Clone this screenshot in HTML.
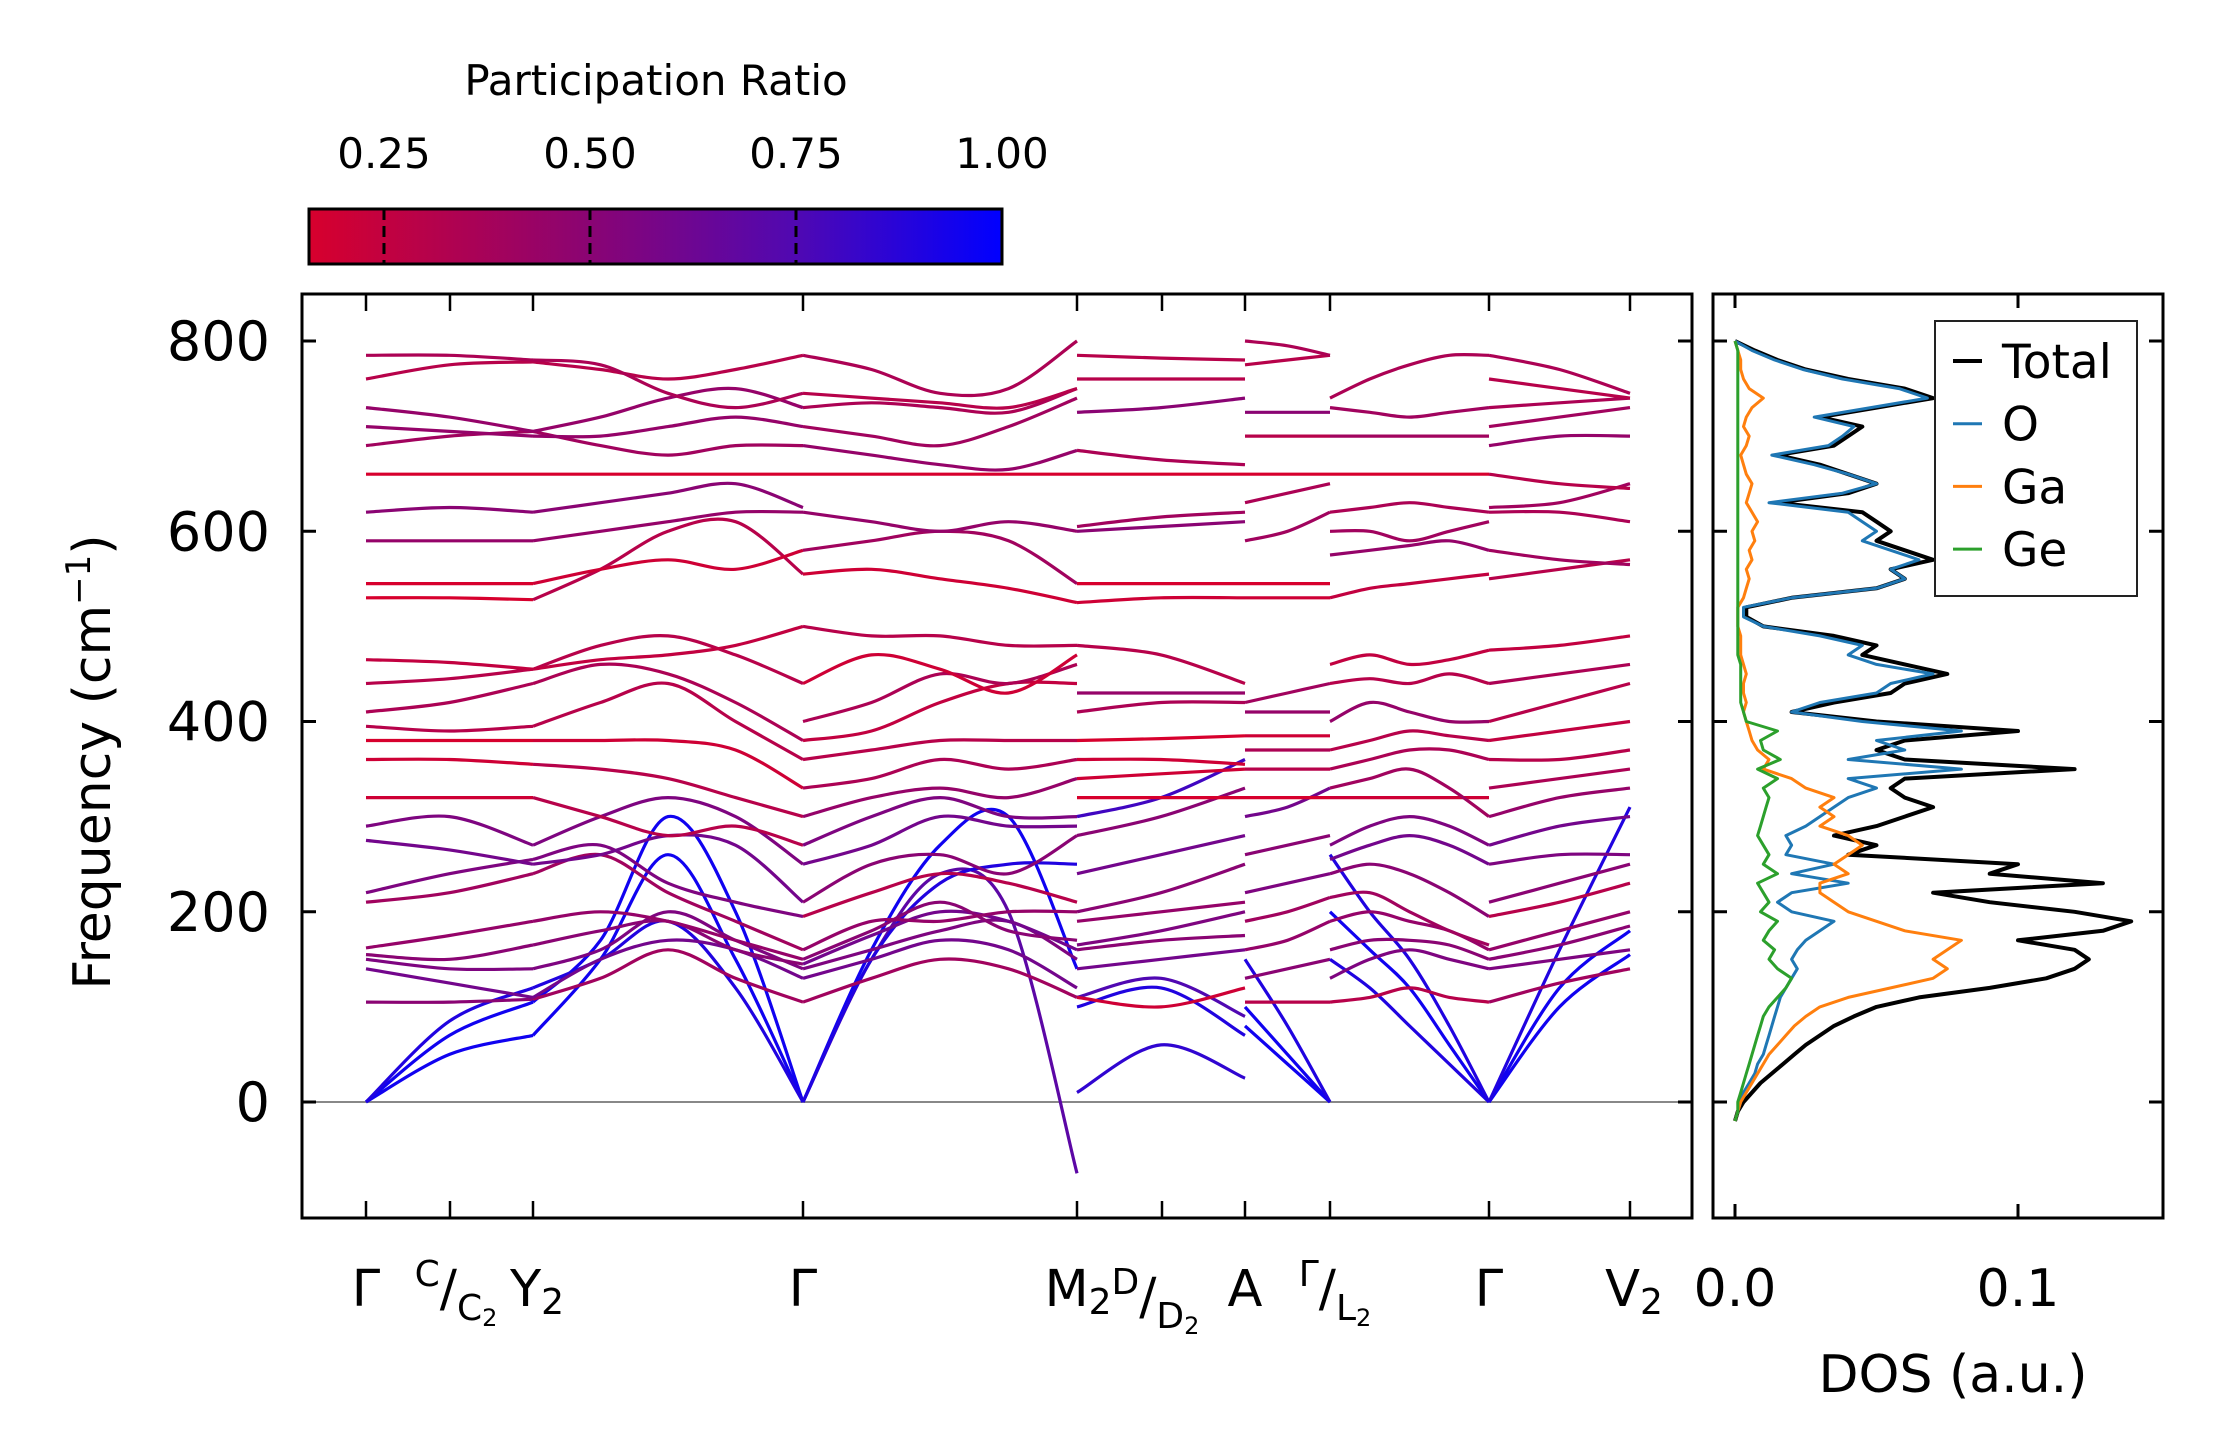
<!DOCTYPE html>
<html><head><meta charset="utf-8"><style>
html,body{margin:0;padding:0;background:#fff}
svg{display:block;font-family:"DejaVu Sans","Liberation Sans",sans-serif}
</style></head><body>
<svg id="fig" width="2222" height="1455" viewBox="0 0 2222 1455" xmlns="http://www.w3.org/2000/svg">
<defs>
<linearGradient id="cbgrad" x1="0" x2="1" y1="0" y2="0">
<stop offset="0" stop-color="rgb(215,0,45)"/>
<stop offset="0.404" stop-color="rgb(138,4,115)"/>
<stop offset="0.703" stop-color="rgb(80,8,178)"/>
<stop offset="1" stop-color="rgb(0,0,255)"/>
</linearGradient>
<clipPath id="mainclip"><rect x="302" y="294" width="1390" height="924"/></clipPath>
<clipPath id="dosclip"><rect x="1713" y="294" width="450" height="924"/></clipPath>
</defs>
<g id="colorbar">
<text x="656" y="95" font-size="42" text-anchor="middle">Participation Ratio</text>
<rect x="309" y="209" width="693" height="55" fill="url(#cbgrad)" stroke="#000" stroke-width="3"/>
</g>
<g id="main"></g>
<g id="dos"></g>
</svg>
<script>
const NS="http://www.w3.org/2000/svg";
// ---- data ----
const cbTicks=[0.25,0.5,0.75,1.0];
const cbTickLabels=["0.25","0.50","0.75","1.00"];
const yTicks=[0,200,400,600,800];
const yTickLabels=["0","200","400","600","800"];
const kTicks=[0,0.84,1.67,4.37,7.11,7.96,8.79,9.64,11.23,12.64];
const segStart=[0,2,3,4,6,7,8];
const segEnd=[2,3,4,6,7,8,9];
const seg0Bands=[[0,50,70],[0,70,105],[0,85,120],[105,105,108],[140,125,110],[150,140,140],[155,150,165],[162,175,190],[210,220,240],[220,240,255],[275,265,250],[290,300,270],[320,320,320],[360,360,355],[380,380,380],[395,390,395],[410,420,440],[440,445,455],[465,462,455],[530,530,528],[545,545,545],[590,590,590],[620,625,620],[660,660,660],[690,700,705],[710,705,700],[730,720,705],[760,775,778],[785,785,780]];
const seg0PR=[.95,.95,.9,.5,.6,.55,.5,.45,.4,.55,.6,.55,.2,.2,.15,.3,.35,.3,.25,.15,.15,.45,.5,.15,.4,.45,.45,.3,.35];
const seg1Bands=[[70,150,260,150,0],[105,170,300,200,0],[120,150,190,120,0],[108,130,160,130,105],[110,150,170,160,130],[140,160,200,170,140],[165,180,190,160,145],[190,200,190,170,150],[240,260,220,190,160],[255,270,230,210,195],[250,260,280,270,210],[270,300,320,300,250],[320,300,280,290,270],[355,350,340,320,300],[380,380,380,370,330],[395,420,440,400,360],[440,460,450,420,380],[455,480,490,470,440],[455,465,470,480,500],[528,560,600,610,555],[545,560,570,560,580],[590,600,610,620,620],[620,630,640,650,625],[660,660,660,660,660],[705,690,680,690,690],[700,700,710,720,710],[705,720,740,750,730],[778,770,760,770,785],[780,775,745,730,745]];
const seg1PR=[.95,.95,.9,.4,.6,.55,.5,.45,.4,.55,.6,.55,.3,.3,.2,.3,.35,.3,.25,.3,.2,.45,.5,.15,.4,.45,.45,.3,.35];
const seg2Bands=[[0,150,240,200,-75],[0,160,270,300,140],[0,150,230,250,250],[105,130,150,140,110],[130,150,170,160,120],[140,160,180,190,150],[145,175,200,190,160],[150,180,210,180,170],[160,190,190,200,200],[195,220,240,230,210],[210,250,260,240,280],[250,270,300,290,290],[270,300,320,300,300],[300,320,330,320,340],[330,340,360,350,360],[360,370,380,380,380],[380,390,420,440,440],[400,420,450,440,460],[440,470,455,430,470],[500,490,490,480,480],[555,560,550,540,525],[580,590,600,590,545],[620,610,600,610,600],[660,660,660,660,660],[690,680,670,665,685],[710,700,690,710,740],[730,735,730,725,750],[745,740,735,730,750],[785,770,745,750,800]];
const seg2PR=[.7,.95,.9,.4,.6,.55,.6,.5,.45,.3,.5,.6,.55,.45,.35,.3,.25,.35,.2,.3,.2,.4,.45,.15,.45,.4,.35,.3,.35];
const seg3Bands=[[10,60,25],[100,120,70],[110,130,90],[110,100,120],[140,150,160],[160,170,175],[165,180,200],[190,200,210],[200,220,250],[240,260,280],[280,300,330],[300,320,360],[320,320,320],[340,345,350],[360,360,355],[380,382,385],[410,420,420],[430,430,430],[480,470,440],[525,530,530],[545,545,545],[600,605,610],[605,615,620],[660,660,660],[685,675,670],[725,730,740],[760,760,760],[785,782,780]];
const seg3PR=[.85,.9,.75,.2,.6,.5,.55,.45,.5,.6,.5,.8,.15,.2,.2,.15,.35,.45,.3,.2,.15,.5,.4,.12,.35,.5,.3,.3];
const seg4Bands=[[80,40,0],[100,50,0],[150,80,0],[105,105,105],[130,140,150],[160,170,190],[190,200,215],[220,230,240],[260,270,280],[300,310,330],[320,320,320],[350,350,350],[370,370,370],[385,385,385],[410,410,410],[420,430,440],[530,530,530],[545,545,545],[590,600,620],[630,640,650],[660,660,660],[700,700,700],[725,725,725],[775,780,785],[800,795,785]];
const seg4PR=[.95,.95,.9,.3,.5,.45,.4,.55,.5,.6,.15,.3,.35,.2,.45,.4,.2,.15,.4,.35,.12,.3,.5,.3,.35];
const seg5Bands=[[150,120,80,40,0],[200,160,120,60,0],[260,200,150,80,0],[105,110,120,110,105],[130,150,160,150,140],[160,170,170,165,150],[190,200,190,180,160],[215,220,200,180,165],[240,250,240,220,195],[255,270,280,270,250],[270,290,300,290,270],[320,320,320,320,320],[330,340,350,330,300],[350,360,370,370,360],[370,380,390,385,380],[400,420,410,400,400],[440,445,440,450,440],[460,470,460,465,475],[530,540,545,550,555],[575,580,585,590,580],[600,600,590,600,610],[620,625,630,625,620],[660,660,660,660,660],[700,700,700,700,700],[730,725,720,725,730],[740,760,775,785,785]];
const seg5PR=[.9,.95,.9,.3,.55,.5,.45,.4,.5,.6,.55,.2,.4,.35,.3,.45,.3,.25,.25,.45,.4,.35,.15,.4,.4,.35];
const seg6Bands=[[0,100,155],[0,120,180],[0,160,310],[105,125,140],[140,150,160],[150,165,185],[160,180,200],[195,210,230],[210,230,250],[250,260,260],[270,290,300],[300,320,330],[330,340,350],[360,360,370],[380,390,400],[400,420,440],[440,450,460],[475,480,490],[550,560,570],[580,570,565],[620,620,610],[625,630,650],[660,650,645],[690,700,700],[710,720,730],[730,735,740],[760,750,740],[785,770,745]];
const seg6PR=[.95,.95,.9,.4,.55,.5,.45,.3,.5,.55,.6,.45,.35,.3,.25,.3,.35,.25,.3,.4,.35,.4,.3,.45,.4,.35,.3,.35];
const allBands=[seg0Bands,seg1Bands,seg2Bands,seg3Bands,seg4Bands,seg5Bands,seg6Bands];
const allPR=[seg0PR,seg1PR,seg2PR,seg3PR,seg4PR,seg5PR,seg6PR];
// DOS
const dosFreq=[-20,-10,0,10,20,30,40,50,60,70,80,90,100,110,120,130,140,150,160,170,180,190,200,210,220,230,240,250,260,270,280,290,300,310,320,330,340,350,360,370,380,390,400,410,420,430,440,450,460,470,480,490,500,510,520,530,540,550,560,570,580,590,600,610,620,630,640,650,660,670,680,690,700,710,720,730,740,750,760,770,780,790,800];
const dosTotal=[0,.001,.003,.006,.009,.013,.017,.021,.025,.03,.035,.042,.05,.065,.09,.11,.12,.125,.12,.1,.13,.14,.12,.09,.07,.13,.09,.1,.04,.05,.035,.05,.06,.07,.06,.055,.06,.12,.06,.05,.06,.1,.05,.02,.035,.055,.06,.075,.06,.045,.05,.035,.01,.004,.004,.02,.05,.06,.055,.07,.06,.05,.055,.05,.045,.015,.04,.05,.04,.03,.015,.035,.04,.045,.03,.05,.07,.06,.04,.025,.015,.007,0];
const dosO=[0,.001,.002,.003,.005,.007,.008,.01,.011,.012,.013,.014,.015,.016,.018,.02,.022,.02,.022,.025,.03,.035,.02,.015,.02,.04,.02,.035,.018,.02,.018,.025,.03,.035,.04,.05,.04,.08,.04,.06,.05,.08,.045,.02,.03,.05,.055,.07,.05,.04,.045,.03,.01,.003,.003,.02,.05,.06,.055,.065,.055,.045,.05,.045,.04,.012,.038,.05,.04,.028,.013,.033,.038,.042,.028,.048,.068,.058,.038,.024,.014,.006,0];
const dosGa=[0,.001,.002,.004,.006,.008,.01,.012,.015,.018,.021,.025,.03,.04,.055,.07,.075,.07,.075,.08,.06,.05,.04,.035,.03,.03,.04,.035,.04,.045,.04,.03,.035,.03,.035,.025,.02,.01,.012,.008,.006,.005,.004,.003,.004,.003,.003,.004,.003,.002,.002,.002,.001,.001,.001,.003,.004,.005,.004,.006,.005,.007,.006,.008,.006,.004,.005,.006,.004,.003,.002,.004,.005,.003,.004,.006,.01,.005,.003,.002,.002,.001,0];
const dosGe=[0,.001,.001,.002,.003,.004,.005,.006,.007,.008,.009,.01,.012,.015,.018,.02,.015,.012,.014,.01,.012,.015,.009,.012,.01,.008,.015,.01,.012,.01,.008,.009,.01,.011,.012,.01,.015,.008,.016,.01,.009,.015,.004,.003,.002,.002,.002,.002,.002,.001,.001,.001,.001,.001,.001,.001,.001,.001,.001,.001,.001,.001,.001,.001,.001,.001,.001,.001,.001,.001,.001,.001,.001,.001,.001,.001,.001,.001,.001,.001,.001,.001,0];
const dosNames=["Total","O","Ga","Ge"];
const dosXTicks=[0,0.1];
const dosXTickLabels=["0.0","0.1"];

// ---- axes ----
const yS=f=>1102-f*0.95125;
const xK=k=>366+k*100;
const xD=d=>1735+d*2830;
const xCB=v=>309+(v-0.159)/(1-0.159)*693;
function prColor(p){
  const st=[[0.159,215,0,45],[0.5,138,4,115],[0.75,80,8,178],[1,0,0,255]];
  p=Math.max(0.159,Math.min(1,p));
  for(let i=0;i<3;i++){const a=st[i],b=st[i+1];if(p<=b[0]){const t=(p-a[0])/(b[0]-a[0]);
    return `rgb(${Math.round(a[1]+t*(b[1]-a[1]))},${Math.round(a[2]+t*(b[2]-a[2]))},${Math.round(a[3]+t*(b[3]-a[3]))})`;}}
  return "rgb(0,0,255)";
}
function mk(tag,attrs,parent,text){const e=document.createElementNS(NS,tag);for(const k in attrs)e.setAttribute(k,attrs[k]);if(text!==undefined)e.textContent=text;parent.appendChild(e);return e;}
function smooth(pts){let d=`M${pts[0][0].toFixed(1)},${pts[0][1].toFixed(1)}`;
  for(let i=0;i<pts.length-1;i++){const p0=pts[Math.max(0,i-1)],p1=pts[i],p2=pts[i+1],p3=pts[Math.min(pts.length-1,i+2)];
    const c1=[p1[0]+(p2[0]-p0[0])/6,p1[1]+(p2[1]-p0[1])/6],c2=[p2[0]-(p3[0]-p1[0])/6,p2[1]-(p3[1]-p1[1])/6];
    d+=` C${c1[0].toFixed(1)},${c1[1].toFixed(1)} ${c2[0].toFixed(1)},${c2[1].toFixed(1)} ${p2[0].toFixed(1)},${p2[1].toFixed(1)}`;}
  return d;}

// colorbar ticks
const cb=document.getElementById('colorbar');
cbTicks.forEach((v,i)=>{const x=xCB(v);
  if(v<1){const l=mk('line',{x1:x,x2:x,y1:209,y2:264,stroke:'#000','stroke-width':3,'stroke-dasharray':'11,6'},cb);
  
  }
  const t=mk('text',{x:x,y:168,'font-size':42,'text-anchor':'middle'},cb,cbTickLabels[i]);
  
  
});

// main panel
const m=document.getElementById('main');
const zl=mk('line',{x1:302,x2:1692,y1:yS(0),y2:yS(0),stroke:'#888','stroke-width':2},m);


const bg=mk('g',{'clip-path':'url(#mainclip)'},m);


allBands.forEach((bands,s)=>{
  const k0=kTicks[segStart[s]],k1=kTicks[segEnd[s]];
  bands.forEach((vals,b)=>{
    const n=vals.length;
    const pts=vals.map((v,i)=>[xK(k0+(k1-k0)*i/(n-1)),yS(v)]);
    const p=mk('path',{d:smooth(pts),fill:'none',stroke:prColor(allPR[s][b]),'stroke-width':3.2},bg);
    
    
  });
});
const fr=mk('rect',{x:302,y:294,width:1390,height:924,fill:'none',stroke:'#000','stroke-width':3},m);


yTicks.forEach((v,i)=>{const y=yS(v);
  mk('line',{x1:302,x2:316,y1:y,y2:y,stroke:'#000','stroke-width':3},m);
  mk('line',{x1:1678,x2:1692,y1:y,y2:y,stroke:'#000','stroke-width':3},m);
  const t=mk('text',{x:270,y:y+19,'font-size':54,'text-anchor':'end'},m,yTickLabels[i]);
  
  
});
kTicks.forEach(k=>{const x=xK(k);
  mk('line',{x1:x,x2:x,y1:1218,y2:1201,stroke:'#000','stroke-width':2.5},m);
  mk('line',{x1:x,x2:x,y1:294,y2:311,stroke:'#000','stroke-width':2.5},m);
});
function lab(x,main,sub){const t=mk('text',{x:x,y:1306,'font-size':51,'text-anchor':'middle'},m);
  
  
  mk('tspan',{},t,main);
  if(sub){mk('tspan',{'font-size':36,dy:8},t,sub);}}
lab(xK(0),"Γ");
lab(xK(1.67)+4,"Y","2");
lab(xK(4.37),"Γ");
lab(xK(8.79),"A");
lab(xK(11.23),"Γ");
lab(xK(12.64)+4,"V","2");
function frac2(x,pre,top,bot){const g=mk('text',{x:x,y:1306,'font-size':51,'text-anchor':'middle'},m);
  
  
  if(pre){mk('tspan',{},g,pre);mk('tspan',{'font-size':36,dy:8},g,'2');mk('tspan',{dy:-8},g,'');}
  mk('tspan',{'font-size':36,dy:-20},g,top);
  mk('tspan',{dy:20},g,'/');
  mk('tspan',{'font-size':36,dy:14},g,bot);
  mk('tspan',{'font-size':24,dy:6},g,'2');}
frac2(xK(0.84)+6,"","C","C");
frac2(xK(7.11)+45,"M","D","D");
frac2(xK(9.64)+5,"","Γ","L");
const yl=mk('text',{x:0,y:0,'font-size':52,'text-anchor':'middle',transform:'translate(110,762) rotate(-90)'},m);


mk('tspan',{},yl,'Frequency (cm');
mk('tspan',{'font-size':34,dy:-20},yl,'−1');
mk('tspan',{dy:20},yl,')');

// DOS panel
const dp=document.getElementById('dos');
const dg=mk('g',{'clip-path':'url(#dosclip)'},dp);


const dosSeries=[dosTotal,dosO,dosGa,dosGe];
const dosColors=["#000","#1f77b4","#ff7f0e","#2ca02c"];
const dosWidths=[4,3,3,3];
dosSeries.forEach((ser,i)=>{
  const n=Math.min(ser.length,dosFreq.length);
  let d="";for(let j=0;j<n;j++)d+=(j?"L":"M")+xD(ser[j]).toFixed(1)+","+yS(dosFreq[j]).toFixed(1);
  const p=mk('path',{d:d,fill:'none',stroke:dosColors[i],'stroke-width':dosWidths[i],'stroke-linejoin':'round'},dg);
  
  
});
const df=mk('rect',{x:1713,y:294,width:450,height:924,fill:'none',stroke:'#000','stroke-width':3},dp);


yTicks.forEach(v=>{const y=yS(v);
  mk('line',{x1:1713,x2:1727,y1:y,y2:y,stroke:'#000','stroke-width':3},dp);
  mk('line',{x1:2149,x2:2163,y1:y,y2:y,stroke:'#000','stroke-width':3},dp);});
dosXTicks.forEach((v,i)=>{const x=xD(v);
  mk('line',{x1:x,x2:x,y1:1218,y2:1204,stroke:'#000','stroke-width':3},dp);
  mk('line',{x1:x,x2:x,y1:294,y2:308,stroke:'#000','stroke-width':3},dp);
  const t=mk('text',{x:x,y:1306,'font-size':52,'text-anchor':'middle'},dp,dosXTickLabels[i]);
  
  });
const dx=mk('text',{x:1953,y:1392,'font-size':52,'text-anchor':'middle'},dp,'DOS (a.u.)');


// legend
const lg=mk('g',{},dp);


mk('rect',{x:1935,y:321,width:202,height:275,fill:'#fff',stroke:'#222','stroke-width':2},lg);
dosNames.forEach((nm,i)=>{const y=361+i*62.7;
  const e=mk('g',{},lg);
  
  
  mk('line',{x1:1953,x2:1982,y1:y,y2:y,stroke:dosColors[i],'stroke-width':i?3:4},e);
  mk('text',{x:2002,y:y+17,'font-size':47},e,nm);});
</script>
</body></html>
